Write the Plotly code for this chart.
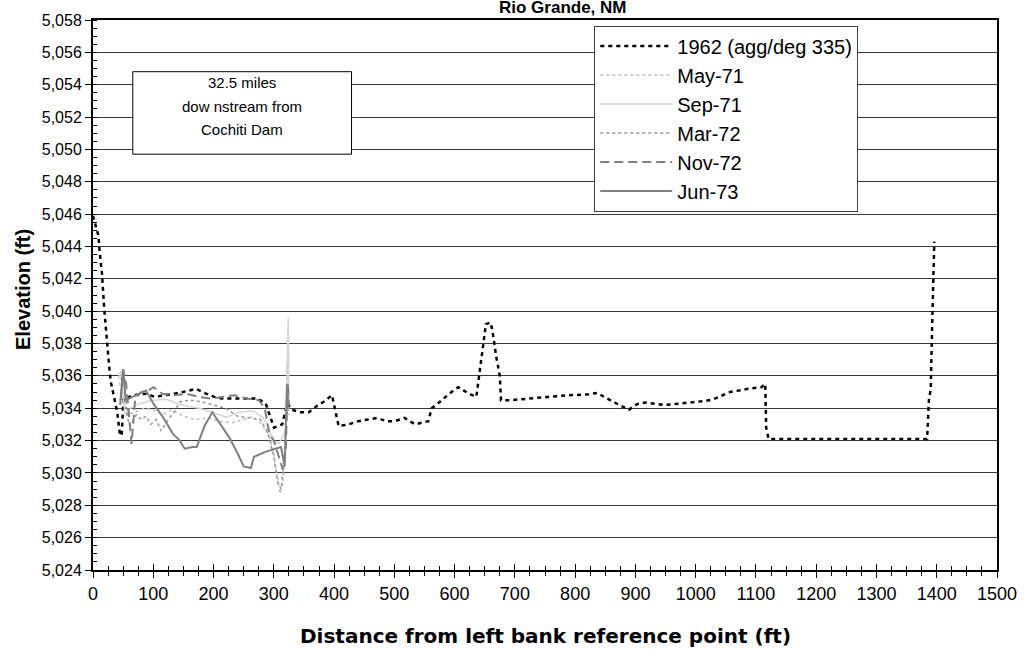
import plotly.graph_objects as go

# Cross-section survey data, Rio Grande 32.5 miles downstream from Cochiti Dam
# distance from left bank reference point (ft) and bed elevation (ft)
x_1962 = [0, 5, 8.8, 11.5, 14.9, 18.7, 23.7, 27, 29.7, 40.2, 44.6, 47.5, 50.6, 52.8,
          66.6, 88.6, 102.3, 121.6, 135.3, 149, 171, 187.6, 201.3, 215, 231.6, 253.6,
          272.8, 286.5, 300.3, 314, 322.3, 330.5, 344.3, 358, 371.8, 382.8, 396.6,
          407.6, 424, 440.6, 457, 471, 487.5, 501, 517, 534.5, 556.4, 562, 575.7,
          589.4, 606, 624, 636, 638.6, 647, 652, 660, 664, 669, 675, 677, 693.7, 724,
          757, 787, 820, 836.5, 853, 869.5, 889, 902.6, 916.4, 949.4, 974, 996,
          1015.5, 1029, 1046, 1057, 1087, 1109, 1115.5, 1117, 1121, 1384, 1387,
          1390, 1393, 1396]
y_1962 = [5045.9, 5045.3, 5044.7, 5043.5, 5042.3, 5040.1, 5037.75, 5036.5, 5035.6,
          5033.75, 5032.4, 5032.3, 5034.6, 5034.6, 5034.8, 5034.9, 5034.7, 5034.8,
          5034.9, 5035.0, 5035.2, 5034.9, 5034.7, 5034.6, 5034.6, 5034.6, 5034.6,
          5034.3, 5032.8, 5033.0, 5034.3, 5033.9, 5033.75, 5033.75, 5034.15, 5034.4,
          5034.8, 5032.9, 5033.0, 5033.2, 5033.3, 5033.4, 5033.2, 5033.2, 5033.4,
          5033.0, 5033.2, 5034.0, 5034.4, 5034.85, 5035.3, 5034.9, 5034.7, 5035.4,
          5037.9, 5039.2, 5039.3, 5038.5, 5037.2, 5036.0, 5034.5, 5034.5, 5034.6,
          5034.7, 5034.8, 5034.85, 5034.95, 5034.6, 5034.3, 5033.9, 5034.25,
          5034.35, 5034.2, 5034.3, 5034.35, 5034.45, 5034.55, 5034.85, 5035.0,
          5035.2, 5035.3, 5035.5, 5032.8, 5032.1, 5032.1, 5034.5, 5035.2, 5040.0,
          5044.3]

x_may71 = [44, 50, 58, 70, 85, 100, 115, 130, 150, 170, 190, 210, 230, 250, 265,
           280, 292, 300, 306, 310, 315, 320, 322, 325]
y_may71 = [5035.6, 5034.4, 5033.6, 5033.8, 5034.0, 5033.9, 5033.6, 5033.9, 5033.5,
           5033.3, 5033.4, 5033.2, 5033.1, 5033.3, 5033.5, 5033.0, 5032.3, 5031.2,
           5029.6, 5028.7, 5029.4, 5033.0, 5036.8, 5033.9]

x_sep71 = [42, 46, 53, 62, 77.5, 99.5, 121.6, 143.6, 160, 176.6, 198.6, 220.6,
           242.6, 264.6, 281, 292, 297.6, 308.5, 319.5, 324, 325]
y_sep71 = [5035.8, 5036.3, 5033.6, 5034.0, 5034.3, 5034.5, 5034.55, 5034.25,
           5034.1, 5034.0, 5033.75, 5033.45, 5033.75, 5033.85, 5033.45, 5032.85,
           5032.0, 5031.8, 5032.6, 5039.6, 5034.3]

x_mar72 = [46, 52, 57, 62, 72, 80, 88, 96, 105, 113, 125, 135, 144, 160, 180, 200,
           220, 240, 260, 278, 290, 300, 306, 312, 318, 322, 325]
y_mar72 = [5035.8, 5036.0, 5033.4, 5032.9, 5033.6, 5033.3, 5033.5, 5033.0, 5033.3,
           5032.6, 5033.3, 5033.8, 5034.4, 5034.5, 5034.4, 5034.2, 5034.0, 5033.5,
           5033.4, 5033.3, 5032.5, 5031.0, 5029.5, 5029.0, 5031.0, 5034.2, 5033.6]

x_nov72 = [46, 50, 55, 60, 64, 70, 80, 92, 100.7, 115, 135, 155, 175, 195, 215,
           235, 255, 275, 285, 292, 300, 308, 315, 320, 323, 325]
y_nov72 = [5034.5, 5036.4, 5035.5, 5033.2, 5031.8, 5034.6, 5035.0, 5035.1, 5035.3,
           5034.9, 5034.8, 5034.9, 5034.7, 5034.6, 5034.7, 5034.8, 5034.6, 5034.5,
           5034.0, 5032.5, 5032.0, 5031.0, 5030.2, 5031.5, 5035.6, 5034.2]

x_jun73 = [45, 50, 54, 66, 77, 88, 100, 116, 133, 144, 152, 165, 172, 185, 198, 212,
           226, 240, 250, 262, 267, 286, 303, 312, 318, 322, 324]
y_jun73 = [5034.2, 5036.4, 5034.5, 5034.7, 5034.9, 5035.1, 5034.3, 5033.45, 5032.4,
           5032.0, 5031.5, 5031.6, 5031.6, 5032.9, 5033.75, 5033.0, 5032.2, 5031.2,
           5030.4, 5030.3, 5031.0, 5031.3, 5031.5, 5031.6, 5030.4, 5035.5, 5034.0]

series = [
    ("1962 (agg/deg 335)", x_1962, y_1962, "#000000", 2.5, "4px,4px"),
    ("May-71", x_may71, y_may71, "#bdbdbd", 1.5, "3px,3px"),
    ("Sep-71", x_sep71, y_sep71, "#d4d4d4", 1.5, "solid"),
    ("Mar-72", x_mar72, y_mar72, "#959595", 1.5, "3px,3px"),
    ("Nov-72", x_nov72, y_nov72, "#7f7f7f", 2, "9px,5px"),
    ("Jun-73", x_jun73, y_jun73, "#808080", 2, "solid"),
]

FONT = "Arial, Liberation Sans, sans-serif"
WIDE = "DejaVu Sans, Arial, sans-serif"

fig = go.Figure()
for name, xs, ys, color, width, dash in series:
    fig.add_trace(go.Scatter(x=xs, y=ys, mode="lines", name=name,
                             line=dict(color=color, width=width, dash=dash)))

fig.update_layout(
    width=1029, height=649,
    margin=dict(l=93, r=27, t=17, b=79),
    paper_bgcolor="white", plot_bgcolor="white",
    font=dict(family=FONT, color="black"),
    showlegend=True,
    legend=dict(x=0.5545, y=0.99, xanchor="left", yanchor="top",
                bgcolor="white", bordercolor="#404040", borderwidth=1,
                font=dict(size=20, family=FONT), itemwidth=72,
                tracegroupgap=0),
    xaxis=dict(range=[0, 1500], dtick=100, tick0=0, showgrid=False,
               zeroline=False, showline=True, linecolor="black", linewidth=2,
               mirror=True, ticks="outside", ticklen=6, tickcolor="black",
               tickfont=dict(size=18, family=FONT),
               minor=dict(dtick=25, ticks="outside", ticklen=4,
                          tickcolor="black", showgrid=False)),
    xaxis2=dict(range=[0, 1500], overlaying="x", anchor="y", side="bottom",
                dtick=100, tick0=0, showgrid=False, zeroline=False,
                showline=False, showticklabels=False, ticks="inside",
                ticklen=6, tickcolor="black",
                minor=dict(dtick=25, ticks="inside", ticklen=4,
                           tickcolor="black", showgrid=False)),
    yaxis=dict(range=[5024, 5058], dtick=2, tick0=5024, showgrid=True,
               gridcolor="#3a3a3a", gridwidth=1, zeroline=False,
               showline=True, linecolor="black", linewidth=2, mirror=True,
               ticks="outside", ticklen=6, tickcolor="black",
               tickformat=",d", tickfont=dict(size=16, family=FONT),
               minor=dict(dtick=0.5, ticks="inside", ticklen=4,
                          tickcolor="black", showgrid=False)),
)

# keep the secondary (tick-only) x axis active so the ticks cross the axis line
fig.add_trace(go.Scatter(x=[], y=[], xaxis="x2", showlegend=False,
                         hoverinfo="skip"))

fig.add_annotation(text="<b>Rio Grande, NM</b>", xref="paper", yref="paper",
                   x=0.52, y=1.022, xanchor="center", yanchor="middle",
                   showarrow=False, font=dict(size=17, family=FONT))
fig.add_annotation(text="<b>Elevation (ft)</b>", xref="paper", yref="paper",
                   x=-0.078, y=0.51, textangle=-90, xanchor="center",
                   yanchor="middle", showarrow=False,
                   font=dict(size=20, family=FONT))
fig.add_annotation(text="<b>Distance from left bank reference point (ft)</b>",
                   xref="paper", yref="paper", x=0.5, y=-0.12,
                   xanchor="center", yanchor="middle", showarrow=False,
                   font=dict(size=20, family=WIDE))

# boxed note about the cross-section location
fig.add_shape(type="rect", xref="paper", yref="paper",
              x0=0.044, x1=0.286, y0=0.756, y1=0.906,
              line=dict(color="black", width=1), fillcolor="white", layer="above")
note_lines = ["32.5 miles", "dow nstream from", "Cochiti Dam"]
note_y = [0.887, 0.842, 0.801]
for txt, ny in zip(note_lines, note_y):
    fig.add_annotation(text=txt, xref="paper", yref="paper", x=0.165, y=ny,
                       xanchor="center", yanchor="middle", showarrow=False,
                       font=dict(size=15, family=FONT))

fig.write_html("out.html")
